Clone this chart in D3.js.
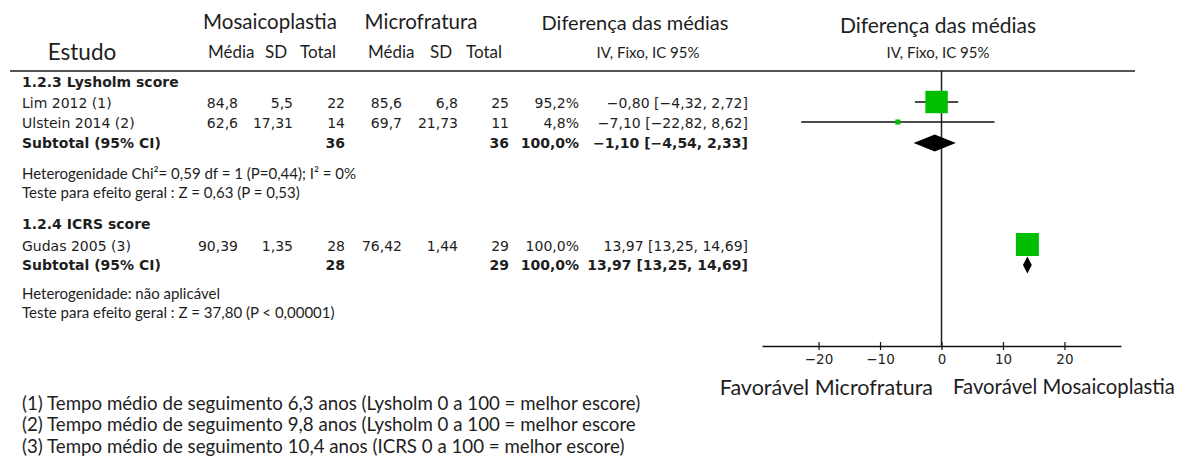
<!DOCTYPE html>
<html>
<head>
<meta charset="utf-8">
<script src="https://cdn.jsdelivr.net/npm/d3@7"></script>
<style>
  body { margin: 0; background: #fff; }
  text { fill: #1e1e1e; }
  .hd { font-family: Lato, "Open Sans", sans-serif; }
  .tb { font-family: "DejaVu Sans", Verdana, sans-serif; font-size: 14px; }
</style>
</head>
<body>
<svg id="chart" width="1191" height="459"></svg>
<script>
// study rows
const studyNames = ['Lim 2012 (1)', 'Ulstein 2014 (2)', 'Gudas 2005 (3)'];
const studyGroup = [0, 0, 1];
const mosaMean = [84.8, 62.6, 90.39];
const mosaSD = [5.5, 17.31, 1.35];
const mosaTotal = [22, 14, 28];
const microMean = [85.6, 69.7, 76.42];
const microSD = [6.8, 21.73, 1.44];
const microTotal = [25, 11, 29];
const weights = [95.2, 4.8, 100.0];
const meanDiff = [-0.80, -7.10, 13.97];
const ciLow = [-4.32, -22.82, 13.25];
const ciHigh = [2.72, 8.62, 14.69];

// subgroups
const groupNames = ['1.2.3 Lysholm score', '1.2.4 ICRS score'];
const subMosaTotal = [36, 28];
const subMicroTotal = [36, 29];
const subWeight = [100.0, 100.0];
const subMD = [-1.10, 13.97];
const subLow = [-4.54, 13.25];
const subHigh = [2.33, 14.69];
const hetText = ['Heterogenidade Chi²= 0,59 df = 1 (P=0,44); I² = 0%', 'Heterogenidade: não aplicável'];
const effectText = ['Teste para efeito geral : Z = 0,63 (P = 0,53)', 'Teste para efeito geral : Z = 37,80 (P < 0,00001)'];

const axisTicks = [-20, -10, 0, 10, 20];
const footnotes = [
  '(1) Tempo médio de seguimento 6,3 anos (Lysholm 0 a 100 = melhor escore)',
  '(2) Tempo médio de seguimento 9,8 anos (Lysholm 0 a 100 = melhor escore',
  '(3) Tempo médio de seguimento 10,4 anos (ICRS 0 a 100 = melhor escore)'
];

const pt = d3.formatLocale({decimal: ',', thousands: '.', grouping: [3], currency: ['', '']});
const f2 = pt.format('.2f'), f1 = pt.format('.1f');
const num = v => String(v).replace('.', ',');
const ciStr = (m, l, h) => `${f2(m)} [${f2(l)}, ${f2(h)}]`;

const svg = d3.select('#chart');

// row positions (layout)
const groupY = [82, 224];
const studyY = [103.5, 123.5, 246];
const subY = [143, 265];
const hetY = [174, 294];
const effY = [193, 313];
const axisY = 346;

// headers
const hd = (x, y, s, size, anchor) => svg.append('text').attr('class', 'hd')
  .attr('x', x).attr('y', y).attr('dy', '0.35em')
  .attr('text-anchor', anchor || 'middle').style('font-size', size + 'px').text(s);

hd(270, 22, 'Mosaicoplastia', 20.5);
hd(421, 22, 'Microfratura', 20.5);
hd(635, 23, 'Diferença das médias', 20);
hd(938, 26, 'Diferença das médias', 21);
hd(82, 52, 'Estudo', 22.5);
hd(208, 52, 'Média', 17, 'start');
hd(265, 52, 'SD', 17, 'start');
hd(300, 52, 'Total', 17, 'start');
hd(368, 52, 'Média', 17, 'start');
hd(430, 52, 'SD', 17, 'start');
hd(466, 52, 'Total', 17, 'start');
hd(648, 53, 'IV, Fixo, IC 95%', 15);
hd(938, 53, 'IV, Fixo, IC 95%', 15);

svg.append('line').attr('x1', 10).attr('x2', 1135).attr('y1', 71).attr('y2', 71)
  .attr('stroke', '#555').attr('stroke-width', 2);

// table
const tb = (x, y, s, anchor, bold) => svg.append('text').attr('class', 'tb')
  .attr('x', x).attr('y', y).attr('dy', '0.35em')
  .attr('text-anchor', anchor || 'end').style('font-weight', bold ? 'bold' : 'normal').text(s);

const colX = {mm: 238, ms: 293, mt: 345, cm: 402, cs: 458, ct: 509, w: 579, ci: 748};

groupNames.forEach((g, i) => {
  tb(22, groupY[i], g, 'start', true);
  tb(22, subY[i], 'Subtotal (95% CI)', 'start', true);
  tb(colX.mt, subY[i], subMosaTotal[i], 'end', true);
  tb(colX.ct, subY[i], subMicroTotal[i], 'end', true);
  tb(colX.w, subY[i], f1(subWeight[i]) + '%', 'end', true);
  tb(colX.ci, subY[i], ciStr(subMD[i], subLow[i], subHigh[i]), 'end', true);
  svg.append('text').attr('class', 'hd').attr('x', 22).attr('y', hetY[i]).attr('dy', '0.35em')
    .style('font-size', '15px').text(hetText[i]);
  svg.append('text').attr('class', 'hd').attr('x', 22).attr('y', effY[i]).attr('dy', '0.35em')
    .style('font-size', '15px').text(effectText[i]);
});

studyNames.forEach((s, i) => {
  const y = studyY[i];
  tb(22, y, s, 'start');
  tb(colX.mm, y, num(mosaMean[i]));
  tb(colX.ms, y, num(mosaSD[i]));
  tb(colX.mt, y, mosaTotal[i]);
  tb(colX.cm, y, num(microMean[i]));
  tb(colX.cs, y, num(microSD[i]));
  tb(colX.ct, y, microTotal[i]);
  tb(colX.w, y, f1(weights[i]) + '%');
  tb(colX.ci, y, ciStr(meanDiff[i], ciLow[i], ciHigh[i]));
});

// forest plot
const x = d3.scaleLinear().domain([-29.2, 29.2]).range([762, 1121]);
const size = d3.scaleSqrt().domain([0, 100]).range([0, 23]);

svg.append('line').attr('x1', x(0)).attr('x2', x(0)).attr('y1', 71).attr('y2', axisY)
  .attr('stroke', '#222').attr('stroke-width', 1.5);

const plot = svg.append('g');
plot.selectAll('line.ci').data(studyNames).join('line')
  .attr('class', 'ci')
  .attr('x1', (d, i) => x(ciLow[i])).attr('x2', (d, i) => x(ciHigh[i]))
  .attr('y1', (d, i) => studyY[i] - 1.5).attr('y2', (d, i) => studyY[i] - 1.5)
  .attr('stroke', '#111').attr('stroke-width', 1.3);

plot.selectAll('rect.sq').data(studyNames).join('rect')
  .attr('class', 'sq')
  .attr('x', (d, i) => x(meanDiff[i]) - size(weights[i]) / 2)
  .attr('y', (d, i) => studyY[i] - 1.5 - size(weights[i]) / 2)
  .attr('width', (d, i) => size(weights[i]))
  .attr('height', (d, i) => size(weights[i]))
  .attr('fill', '#00bf00');

plot.selectAll('polygon.dm').data(groupNames).join('polygon')
  .attr('class', 'dm')
  .attr('points', (d, i) => {
    const y = subY[i], h = 8.5;
    return [[x(subLow[i]), y], [x(subMD[i]), y - h], [x(subHigh[i]), y], [x(subMD[i]), y + h]].join(' ');
  })
  .attr('fill', '#000');

// axis
const axis = svg.append('g').attr('class', 'tb')
  .attr('transform', `translate(0,${axisY})`)
  .call(d3.axisBottom(x).tickValues(axisTicks).tickFormat(pt.format('d')).tickSize(4).tickSizeOuter(0).tickPadding(4));
axis.select('.domain').attr('stroke', '#111').attr('stroke-width', 1.3);
axis.selectAll('.tick line').attr('y1', -4).attr('stroke', '#111').attr('stroke-width', 1.2);
axis.selectAll('.tick text').style('font-size', '13.5px').style('font-family', '"DejaVu Sans", sans-serif').attr('fill', '#1e1e1e');

hd(933, 387, 'Favorável Microfratura', 21.5, 'end');
hd(953, 387, 'Favorável Mosaicoplastia', 20.3, 'start');

// footnotes
svg.selectAll('text.fn').data(footnotes).join('text')
  .attr('class', 'hd fn')
  .attr('x', 22).attr('y', (d, i) => 403 + i * 21.5).attr('dy', '0.35em')
  .style('font-size', '18.7px').text(d => d);
</script>
</body>
</html>
